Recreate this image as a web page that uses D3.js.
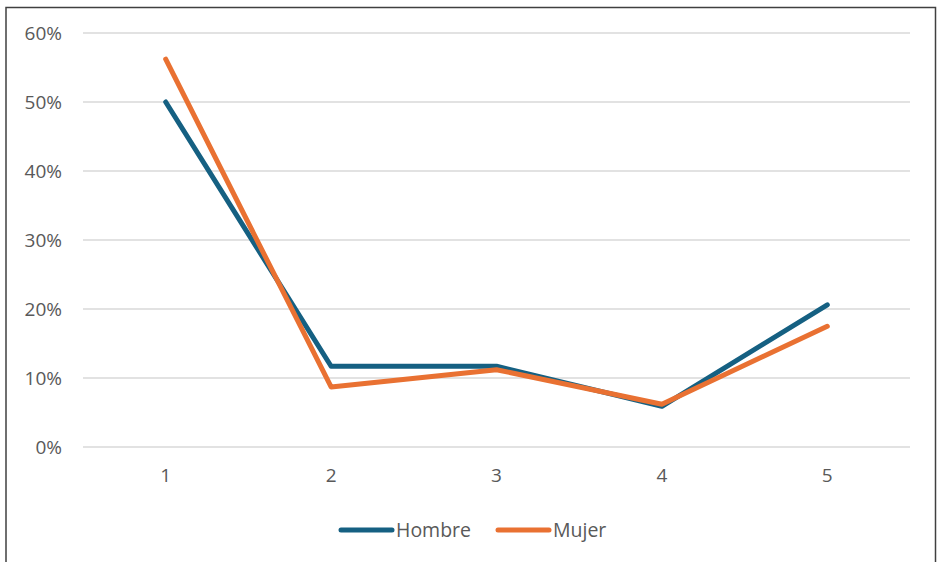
<!DOCTYPE html>
<html><head><meta charset="utf-8">
<script src="https://cdn.jsdelivr.net/npm/d3@7"></script>
<style>body{margin:0;background:#fff}svg{display:block}</style>
</head><body>
<svg id="c" width="938" height="562"></svg>
<script>
const categories = ["1","2","3","4","5"];
const hombre = [0.500, 0.117, 0.117, 0.059, 0.206];
const mujer  = [0.562, 0.087, 0.112, 0.062, 0.175];
const yTicks = [0, 0.1, 0.2, 0.3, 0.4, 0.5, 0.6];
const seriesNames = ["Hombre", "Mujer"];
const colors = ["#156082", "#E97132"];

const svg = d3.select("#c");
const font = "'Open Sans', 'Noto Sans', sans-serif";
svg.append("rect").attr("x",6).attr("y",7.5).attr("width",929.5).attr("height",570)
  .attr("fill","#fff").attr("stroke","#404040").attr("stroke-width",1.5);

const x = d3.scaleBand().domain(categories).range([83, 910]);
const y = d3.scaleLinear().domain([0, 0.6]).range([447, 33]);

const grid = svg.append("g");
grid.selectAll("line").data(yTicks).join("line")
  .attr("x1",83).attr("x2",910)
  .attr("y1",d=>y(d)).attr("y2",d=>y(d))
  .attr("stroke","#d9d9d9").attr("stroke-width",1.5);

const yAxis = svg.append("g").attr("transform","translate(62,0)")
  .call(d3.axisLeft(y).tickValues(yTicks).tickFormat(d3.format(".0%")).tickSize(0).tickPadding(0));
yAxis.select(".domain").remove();
yAxis.selectAll("text").attr("font-family",font).attr("font-size",19).attr("fill","#595959");

const xAxis = svg.append("g").attr("transform","translate(0,468)")
  .call(d3.axisBottom(x).tickSize(0).tickPadding(0));
xAxis.select(".domain").remove();
xAxis.selectAll("text").attr("font-family",font).attr("font-size",19).attr("fill","#595959");

const line = d3.line().x((d,i)=>x(categories[i]) + x.bandwidth()/2).y(d=>y(d));
[hombre, mujer].forEach((s,i)=>{
  svg.append("path").attr("d", line(s)).attr("fill","none")
    .attr("stroke", colors[i]).attr("stroke-width",5)
    .attr("stroke-linejoin","round").attr("stroke-linecap","round");
});

const legendX = [339, 496];
seriesNames.forEach((n,i)=>{
  const g = svg.append("g").attr("transform",`translate(${legendX[i]},530)`);
  g.append("line").attr("x1",2).attr("x2",53).attr("y1",0).attr("y2",0)
    .attr("stroke",colors[i]).attr("stroke-width",5).attr("stroke-linecap","round");
  g.append("text").attr("x",57).attr("y",7).text(n)
    .attr("font-family",font).attr("font-size",19.5).attr("fill","#595959");
});
</script>
</body></html>
